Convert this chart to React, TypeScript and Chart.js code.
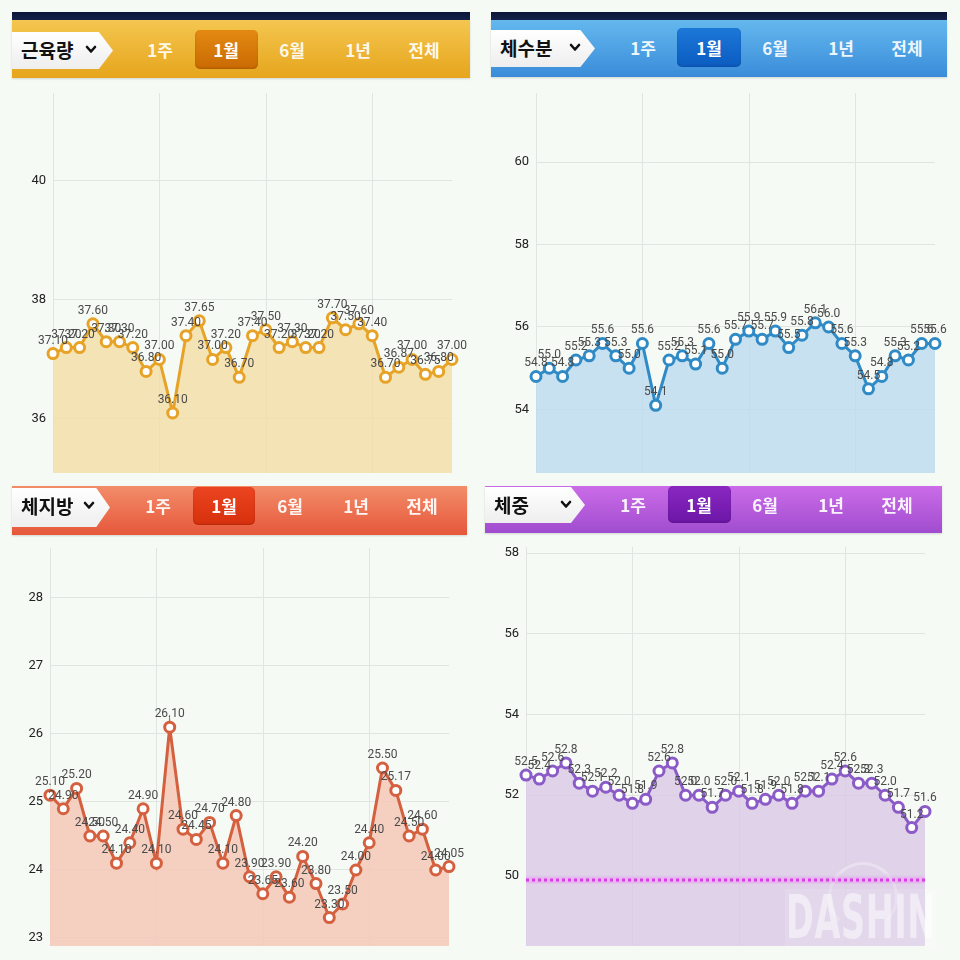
import React, { useEffect, useRef } from 'react';
import { Chart, registerables } from 'chart.js';

Chart.register(...registerables);

// ---------- data ----------
const DAYS = ['1', '2', '3', '4', '5', '6', '7', '8', '9', '10', '11', '12', '13', '14', '15', '16',
  '17', '18', '19', '20', '21', '22', '23', '24', '25', '26', '27', '28', '29', '30', '31'];

const MUSCLE = [37.1, 37.2, 37.2, 37.6, 37.3, 37.3, 37.2, 36.8, 37.0, 36.1, 37.4, 37.65, 37.0, 37.2, 36.7, 37.4,
  37.5, 37.2, 37.3, 37.2, 37.2, 37.7, 37.5, 37.6, 37.4, 36.7, 36.87, 37.0, 36.75, 36.8, 37.0];
const WATER = [54.8, 55.0, 54.8, 55.2, 55.3, 55.6, 55.3, 55.0, 55.6, 54.1, 55.2, 55.3, 55.1, 55.6, 55.0, 55.7,
  55.9, 55.7, 55.9, 55.5, 55.8, 56.1, 56.0, 55.6, 55.3, 54.5, 54.8, 55.3, 55.2, 55.6, 55.6];
const FAT = [25.1, 24.9, 25.2, 24.5, 24.5, 24.1, 24.4, 24.9, 24.1, 26.1, 24.6, 24.45, 24.7, 24.1, 24.8, 23.9,
  23.65, 23.9, 23.6, 24.2, 23.8, 23.3, 23.5, 24.0, 24.4, 25.5, 25.17, 24.5, 24.6, 24.0, 24.05];
const WEIGHT = [52.5, 52.4, 52.6, 52.8, 52.3, 52.1, 52.2, 52.0, 51.8, 51.9, 52.6, 52.8, 52.0, 52.0, 51.7, 52.0,
  52.1, 51.8, 51.9, 52.0, 51.8, 52.1, 52.1, 52.4, 52.6, 52.3, 52.3, 52.0, 51.7, 51.2, 51.6];

const MUSCLE_TICKS = [36, 38, 40];
const WATER_TICKS = [54, 56, 58, 60];
const FAT_TICKS = [23, 24, 25, 26, 27, 28];
const WEIGHT_TICKS = [50, 52, 54, 56, 58];
const WEIGHT_GOAL = 49.9;
const X_GRID_EVERY = 8;

const PERIOD_TABS = ['1주', '1월', '6월', '1년', '전체'];
const SELECTED_TAB = 1;

const GRID = '#e1e5e1';
const BG = '#f6faf5';
const KR_FONT = '"Noto Sans CJK KR", "Noto Sans", sans-serif';

type Rect = { left: number; top: number; width: number; height: number };

type ChartProps = {
  rect: Rect;
  pad: { top: number; right: number; bottom: number };
  yMin: number;
  yMax: number;
  ticks: number[];
  values: number[];
  color: string;
  fill: string;
  decimals: number;
  goal?: number;
};

function LineChart(p: ChartProps) {
  const ref = useRef<HTMLCanvasElement | null>(null);
  useEffect(() => {
    if (!ref.current) return;
    const overlay = {
      id: 'overlay',
      beforeDatasetsDraw(chart: any) {
        const ctx = chart.ctx;
        const xs = chart.scales.x;
        const area = chart.chartArea;
        ctx.save();
        ctx.strokeStyle = GRID;
        ctx.lineWidth = 1;
        DAYS.forEach((_, i) => {
          if (i % X_GRID_EVERY !== 0) return;
          const x = Math.round(xs.getPixelForValue(i)) + 0.5;
          ctx.beginPath();
          ctx.moveTo(x, area.top);
          ctx.lineTo(x, area.bottom);
          ctx.stroke();
        });
        ctx.restore();
      },
      afterDatasetsDraw(chart: any) {
        const ctx = chart.ctx;
        const yScale = chart.scales.y;
        const area = chart.chartArea;
        ctx.save();
        if (p.goal !== undefined) {
          const gy = yScale.getPixelForValue(p.goal);
          ctx.strokeStyle = 'rgba(238,150,240,0.45)';
          ctx.lineWidth = 7;
          ctx.beginPath();
          ctx.moveTo(area.left, gy);
          ctx.lineTo(area.right, gy);
          ctx.stroke();
          ctx.strokeStyle = '#d63ee6';
          ctx.lineWidth = 3;
          ctx.setLineDash([3, 3]);
          ctx.beginPath();
          ctx.moveTo(area.left, gy);
          ctx.lineTo(area.right, gy);
          ctx.stroke();
          ctx.setLineDash([]);
        }
        const meta = chart.getDatasetMeta(0);
        ctx.font = '12px Roboto, "DejaVu Sans", sans-serif';
        ctx.fillStyle = '#4a4a4a';
        ctx.textAlign = 'center';
        ctx.textBaseline = 'bottom';
        meta.data.forEach((pt: any, i: number) => {
          ctx.fillText(p.values[i].toFixed(p.decimals), pt.x, pt.y - 7);
        });
        ctx.restore();
      },
    };
    const chart = new Chart(ref.current, {
      type: 'line',
      data: {
        labels: DAYS,
        datasets: [
          {
            data: p.values,
            borderColor: p.color,
            backgroundColor: p.fill,
            fill: 'start',
            borderWidth: 3,
            tension: 0,
            pointRadius: 5,
            pointBorderWidth: 3,
            pointBackgroundColor: '#ffffff',
            pointBorderColor: p.color,
            clip: false as any,
          },
        ],
      },
      options: {
        responsive: false,
        animation: false,
        devicePixelRatio: 1,
        layout: { padding: { top: p.pad.top, right: p.pad.right, bottom: p.pad.bottom, left: 0 } },
        plugins: { legend: { display: false }, tooltip: { enabled: false } },
        scales: {
          x: {
            display: false,
          },
          y: {
            min: p.yMin,
            max: p.yMax,
            afterBuildTicks: (s: any) => {
              s.ticks = p.ticks.map((v) => ({ value: v }));
            },
            grid: { color: GRID, drawTicks: false, lineWidth: 1 },
            border: { display: false },
            ticks: {
              padding: 7,
              color: '#222',
              font: { size: 13, family: 'Roboto, "DejaVu Sans", sans-serif' },
              callback: (v: any) => String(v),
            },
            afterFit: (s: any) => {
              s.width = 45;
            },
          },
        },
      },
      plugins: [overlay],
    });
    return () => chart.destroy();
  }, []);
  return (
    <canvas
      ref={ref}
      width={p.rect.width}
      height={p.rect.height}
      style={{ position: 'absolute', left: p.rect.left, top: p.rect.top, width: p.rect.width, height: p.rect.height }}
    />
  );
}

type HeaderProps = {
  rect: Rect;
  navy: boolean;
  grad: [string, string];
  selGrad: [string, string];
  title: string;
  titleTab: { right: number; top: number; height: number };
  chevronX: number;
  sel: { left: number; top: number; width: number; height: number };
  firstCenter: number;
  textY: number;
};

function Header(h: HeaderProps) {
  const r = h.rect;
  return (
    <>
      {h.navy && (
        <div
          style={{
            position: 'absolute',
            left: r.left,
            top: r.top - 8,
            width: r.width,
            height: 8,
            background: 'linear-gradient(#0b1636, #14224a)',
          }}
        />
      )}
      <div
        style={{
          position: 'absolute',
          left: r.left,
          top: r.top,
          width: r.width,
          height: r.height,
          background: `linear-gradient(${h.grad[0]}, ${h.grad[1]})`,
          boxShadow: '0 1px 2px rgba(0,0,0,0.15)',
        }}
      />
      <div
        style={{
          position: 'absolute',
          left: r.left,
          top: h.titleTab.top,
          width: h.titleTab.right - r.left,
          height: h.titleTab.height,
          background: 'linear-gradient(#ffffff, #eeeeee)',
          clipPath: 'polygon(0 0, 86% 0, 100% 50%, 86% 100%, 0 100%)',
        }}
      />
      <div
        style={{
          position: 'absolute',
          left: r.left + 9,
          top: h.textY - 14,
          height: 28,
          lineHeight: '28px',
          fontFamily: KR_FONT,
          fontWeight: 700,
          fontSize: 19,
          color: '#111',
          whiteSpace: 'nowrap',
        }}
      >
        {h.title}
      </div>
      <svg
        style={{ position: 'absolute', left: h.chevronX - 6, top: h.textY - 5 }}
        width={12}
        height={9}
        viewBox="0 0 12 9"
      >
        <polyline points="2,2 6,6.5 10,2" fill="none" stroke="#111" strokeWidth={2.6} strokeLinecap="round" strokeLinejoin="round" />
      </svg>
      <div
        style={{
          position: 'absolute',
          left: h.sel.left,
          top: h.sel.top,
          width: h.sel.width,
          height: h.sel.height,
          borderRadius: 5,
          background: `linear-gradient(${h.selGrad[0]}, ${h.selGrad[1]})`,
          boxShadow: 'inset 0 -1px 2px rgba(0,0,0,0.15)',
        }}
      />
      {PERIOD_TABS.map((t, i) => (
        <div
          key={t}
          style={{
            position: 'absolute',
            left: h.firstCenter + i * 66 - 30,
            width: 60,
            top: h.textY - 14,
            height: 28,
            lineHeight: '28px',
            textAlign: 'center',
            fontFamily: KR_FONT,
            fontWeight: i === SELECTED_TAB ? 700 : 600,
            fontSize: 17,
            color: i === SELECTED_TAB ? '#ffffff' : 'rgba(255,255,255,0.92)',
          }}
        >
          {t}
        </div>
      ))}
    </>
  );
}

export default function App() {
  return (
    <div
      style={{
        position: 'fixed',
        left: 0,
        top: 0,
        width: 960,
        height: 960,
        background: BG,
        overflow: 'hidden',
      }}
    >
      {/* top-left: 근육량 */}
      <Header
        rect={{ left: 12, top: 20, width: 458, height: 58 }}
        navy
        grad={['#f4c650', '#e6a51c']}
        selGrad={['#e38a12', '#c96a02']}
        title="근육량"
        titleTab={{ right: 113, top: 32, height: 37 }}
        chevronX={91}
        sel={{ left: 195, top: 30, width: 63, height: 39 }}
        firstCenter={160}
        textY={50}
      />
      <LineChart
        rect={{ left: 8, top: 73, width: 462, height: 420 }}
        pad={{ top: 20, right: 18, bottom: 20 }}
        yMin={35.092}
        yMax={41.479}
        ticks={MUSCLE_TICKS}
        values={MUSCLE}
        color="#e6a327"
        fill="rgba(243,222,168,0.85)"
        decimals={2}
      />

      {/* top-right: 체수분 */}
      <Header
        rect={{ left: 491, top: 20, width: 456, height: 57 }}
        navy
        grad={['#64b8ee', '#3a8cd9']}
        selGrad={['#1c78d8', '#0c5cc0']}
        title="체수분"
        titleTab={{ right: 595, top: 30, height: 37 }}
        chevronX={575}
        sel={{ left: 677, top: 28, width: 64, height: 39 }}
        firstCenter={643}
        textY={48}
      />
      <LineChart
        rect={{ left: 491, top: 73, width: 456, height: 420 }}
        pad={{ top: 20, right: 12, bottom: 20 }}
        yMin={52.46}
        yMax={61.673}
        ticks={WATER_TICKS}
        values={WATER}
        color="#2f8ac6"
        fill="rgba(190,220,238,0.85)"
        decimals={1}
      />

      {/* bottom-left: 체지방 */}
      <Header
        rect={{ left: 12, top: 486, width: 455, height: 49 }}
        navy={false}
        grad={['#f28d6a', '#e6573a']}
        selGrad={['#ea4420', '#d6300e']}
        title="체지방"
        titleTab={{ right: 110, top: 488, height: 39 }}
        chevronX={89}
        sel={{ left: 193, top: 487, width: 62, height: 38 }}
        firstCenter={158}
        textY={506}
      />
      <LineChart
        rect={{ left: 5, top: 528, width: 462, height: 438 }}
        pad={{ top: 20, right: 18, bottom: 20 }}
        yMin={22.882}
        yMax={28.735}
        ticks={FAT_TICKS}
        values={FAT}
        color="#d4603f"
        fill="rgba(245,200,183,0.85)"
        decimals={2}
      />

      {/* bottom-right: 체중 */}
      <Header
        rect={{ left: 485, top: 486, width: 457, height: 47 }}
        navy={false}
        grad={['#cb6ce8', '#a04ccf']}
        selGrad={['#8a28c2', '#6c16a6']}
        title="체중"
        titleTab={{ right: 585, top: 487, height: 36 }}
        chevronX={566}
        sel={{ left: 668, top: 486, width: 63, height: 37 }}
        firstCenter={633}
        textY={505}
      />
      <LineChart
        rect={{ left: 481, top: 527, width: 457, height: 439 }}
        pad={{ top: 20, right: 13, bottom: 20 }}
        yMin={48.266}
        yMax={58.149}
        ticks={WEIGHT_TICKS}
        values={WEIGHT}
        color="#8b5cc8"
        fill="rgba(218,202,230,0.85)"
        decimals={1}
        goal={WEIGHT_GOAL}
      />

      {/* watermark */}
      <div
        style={{
          position: 'absolute',
          left: 785,
          top: 889,
          width: 152,
          height: 58,
          background: 'rgba(255,255,255,0.12)',
        }}
      />
      <div
        style={{
          position: 'absolute',
          left: 828,
          top: 862,
          width: 64,
          height: 64,
          borderRadius: '50%',
          border: '3px solid rgba(255,255,255,0.35)',
          borderBottomColor: 'transparent',
          borderLeftColor: 'rgba(255,255,255,0.2)',
          borderRightColor: 'rgba(255,255,255,0.2)',
        }}
      />
      <div
        style={{
          position: 'absolute',
          left: 786,
          top: 884,
          width: 152,
          height: 66,
          lineHeight: '66px',
          fontFamily: '"DejaVu Sans Condensed", "DejaVu Sans", sans-serif',
          fontWeight: 700,
          fontSize: 60,
          color: 'rgba(255,255,255,0.5)',
          whiteSpace: 'nowrap',
          transform: 'scaleX(0.62)',
          transformOrigin: 'left center',
          letterSpacing: 1,
        }}
      >
        DASHIN
      </div>
    </div>
  );
}
